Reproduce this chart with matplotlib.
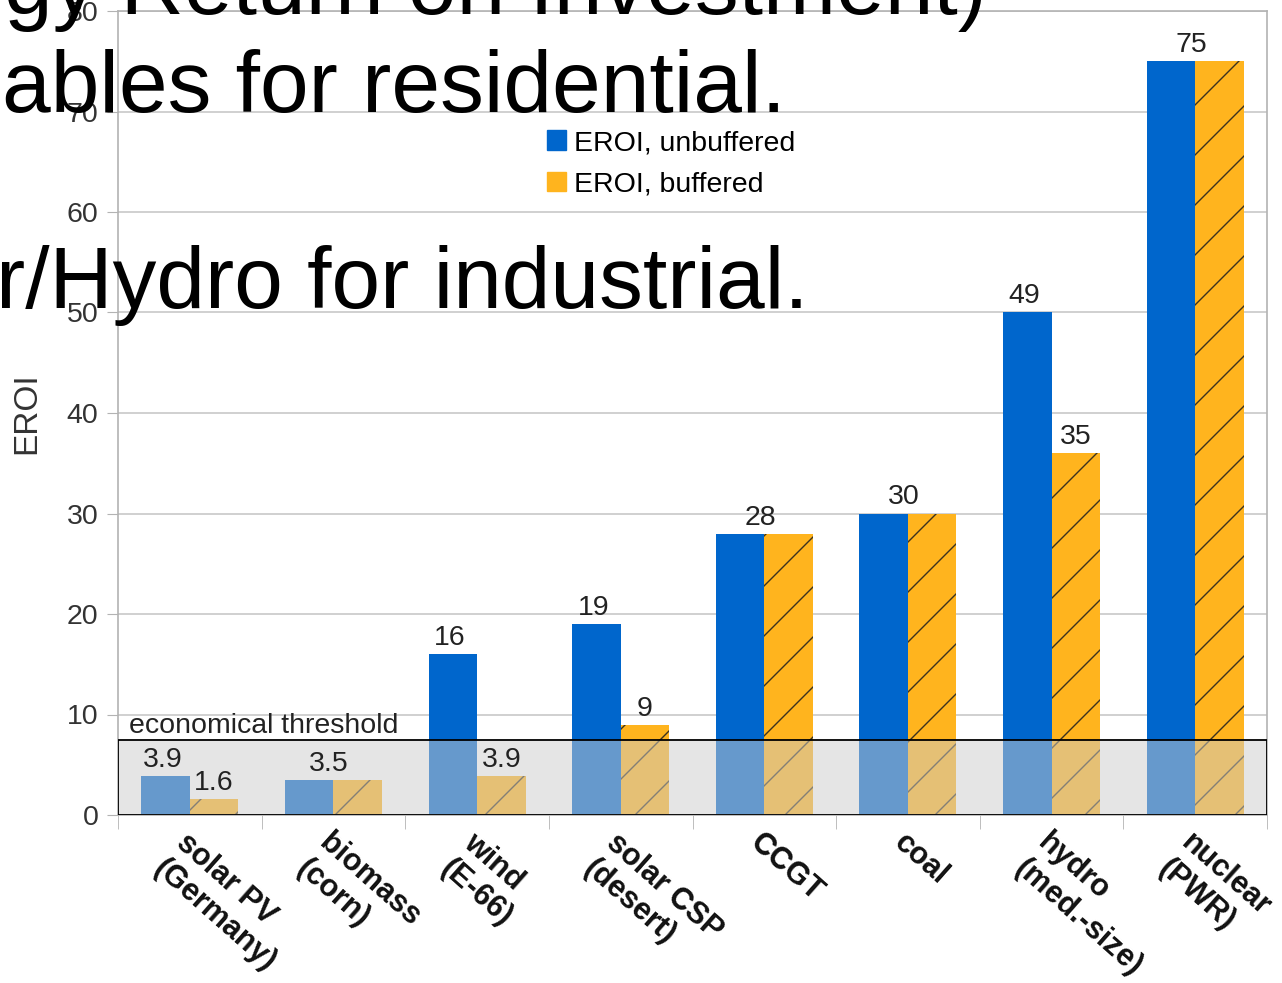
import numpy as np
import matplotlib
matplotlib.use("Agg")
import matplotlib.pyplot as plt
from matplotlib.patches import Patch, Rectangle
from matplotlib.backend_bases import GraphicsContextBase

# sparser hatch than matplotlib's default density
_hatch_path = GraphicsContextBase.get_hatch_path
GraphicsContextBase.get_hatch_path = lambda self, density=4.0: _hatch_path(self, density)

plt.rcParams['font.family'] = ['Liberation Sans', 'DejaVu Sans']
plt.rcParams['hatch.color'] = '#3b3220'
plt.rcParams['hatch.linewidth'] = 1.0

# data
categories = ['solar PV\n(Germany)', 'biomass\n(corn)', 'wind\n(E-66)', 'solar CSP\n(desert)',
              'CCGT', 'coal', 'hydro\n(med.-size)', 'nuclear\n(PWR)']
eroi_unbuffered = [3.9, 3.5, 16, 19, 28, 30, 50, 75]
eroi_buffered = [1.6, 3.5, 3.9, 9, 28, 30, 36, 75]
labels_unbuffered = ['3.9', '3.5', '16', '19', '28', '30', '49', '75']
labels_buffered = ['1.6', '3.5', '3.9', '9', '28', '30', '35', '75']
threshold = 7.5

blue = '#0066cc'
orange = '#ffb41e'
fs = 20.5

fig = plt.figure(figsize=(12.82, 9.83), dpi=100)
ax = fig.add_axes([118 / 1282, 168 / 983, 1149 / 1282, 804 / 983])

x = np.arange(len(categories))
w = 0.338
ax.bar(x - w / 2, eroi_unbuffered, w, color=blue, linewidth=0, zorder=2)
ax.bar(x + w / 2, eroi_buffered, w, color=orange, hatch='/', linewidth=0, zorder=2)

# value labels
for i in range(len(categories)):
    if labels_unbuffered[i] == labels_buffered[i]:
        ax.text(x[i] - 0.03, max(eroi_unbuffered[i], eroi_buffered[i]) + 0.3, labels_unbuffered[i],
                ha='center', va='bottom', fontsize=fs, color='#222222', zorder=5)
    else:
        ax.text(x[i] - w / 2 - 0.02, eroi_unbuffered[i] + 0.3, labels_unbuffered[i],
                ha='center', va='bottom', fontsize=fs, color='#222222', zorder=5)
        ax.text(x[i] + w / 2, eroi_buffered[i] + 0.3, labels_buffered[i],
                ha='center', va='bottom', fontsize=fs, color='#222222', zorder=5)

# economical threshold box
ax.add_patch(Rectangle((-0.5, 0), len(categories), threshold, facecolor=(0.8, 0.8, 0.8, 0.5),
                       edgecolor='black', linewidth=1.3, zorder=4))
ax.text(-0.42, threshold + 0.1, 'economical threshold', ha='left', va='bottom',
        fontsize=fs, color='#222222', zorder=5)

ax.set_xlim(-0.5, len(categories) - 0.5)
ax.set_ylim(0, 80)
ax.set_yticks(np.arange(0, 81, 10))
ax.tick_params(axis='y', labelsize=fs, labelcolor='#333333', color='#b3b3b3', length=8, pad=6)
ax.set_xticks(x)
ax.set_xticklabels(categories, rotation=-41.5, ha='left', va='top', rotation_mode='anchor',
                   multialignment='left', fontsize=22, fontweight='bold', color='#111111')
ax.tick_params(axis='x', which='major', length=0, pad=9)
ax.set_xticks(np.arange(-0.5, len(categories), 1), minor=True)
ax.tick_params(axis='x', which='minor', length=10, color='#b3b3b3')

ax.grid(axis='y', color='#c8c8c8', linewidth=1.2, zorder=0)
ax.set_axisbelow(True)
for s in ax.spines.values():
    s.set_color('#b3b3b3')
    s.set_linewidth(1.2)

ax.set_ylabel('EROI', fontsize=24, color='#333333', labelpad=18)

handles = [Patch(color=blue, label='EROI, unbuffered'), Patch(color=orange, label='EROI, buffered')]
fig.legend(handles=handles, loc='upper left', bbox_to_anchor=(547 / 1282, 1 - 130 / 983),
           frameon=False, fontsize=fs, handlelength=0.65, handleheight=0.65,
           handletextpad=0.3, labelspacing=0.55, borderpad=0, borderaxespad=0)

# overlaid caption text, cut off by the image edges
fig.text(4 / 1282, 1 - 14 / 983, 'gy Return on Investment)', fontsize=63, color='black',
         ha='left', va='baseline')
fig.text(2 / 1282, 1 - 112 / 983, 'ables for residential.', fontsize=63, color='black',
         ha='left', va='baseline')
fig.text(-4 / 1282, 1 - 308 / 983, 'r/Hydro for industrial.', fontsize=63, color='black',
         ha='left', va='baseline')

fig.savefig('out.png', dpi=100)
